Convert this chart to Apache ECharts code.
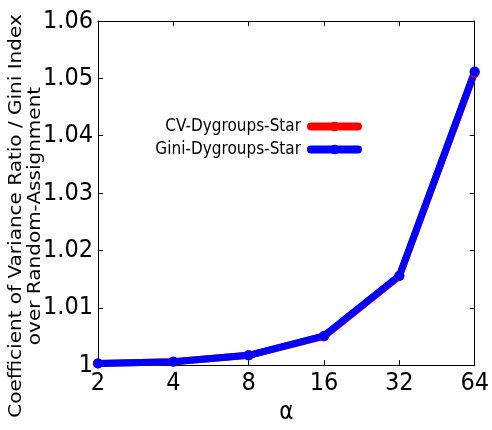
<!DOCTYPE html>
<html>
<head>
<meta charset="utf-8">
<script src="https://cdn.jsdelivr.net/npm/echarts@6/dist/echarts.min.js"></script>
<style>
  html, body { margin: 0; padding: 0; background: #fff; }
  #chart { width: 492px; height: 430px; }
</style>
</head>
<body>
<div id="chart"></div>
<script>
// group-size parameter alpha (log2-spaced, drawn as evenly spaced categories)
const alphaValues = ['2', '4', '8', '16', '32', '64'];
// ratio over Random-Assignment for each metric
const cvDygroupsStar = [1.0003, 1.0006, 1.0017, 1.0050, 1.0155, 1.0510];
const giniDygroupsStar = [1.0003, 1.0006, 1.0017, 1.0051, 1.0156, 1.0512];

const seriesNames = ['CV-Dygroups-Star', 'Gini-Dygroups-Star'];
const seriesColors = ['#ff0000', '#0000ff'];

const tickFont = 'DejaVu Sans Condensed, DejaVu Sans, sans-serif';

const chart = echarts.init(document.getElementById('chart'), null, { renderer: 'canvas' });

function lineSeries(name, values, color) {
  return {
    name: name,
    type: 'line',
    data: values,
    xAxisIndex: 0,
    yAxisIndex: 0,
    symbol: 'circle',
    symbolSize: 10,
    itemStyle: { color: color },
    lineStyle: { color: color, width: 7, cap: 'round', join: 'round' },
    emphasis: { disabled: true },
    animation: false
  };
}

chart.setOption({
  backgroundColor: '#ffffff',
  animation: false,
  grid: { left: 98, right: 15, top: 21, bottom: 59 },
  legend: {
    orient: 'vertical',
    align: 'right',
    right: 130,
    top: 118,
    padding: 0,
    itemGap: 6,
    itemWidth: 47,
    itemHeight: 12,
    data: seriesNames,
    textStyle: { fontFamily: tickFont, fontSize: 17, color: '#000', padding: [0, 5, 0, 0] },
    lineStyle: { width: 8, cap: 'round' }
  },
  xAxis: [
    {
      type: 'category',
      data: alphaValues,
      boundaryGap: false,
      position: 'bottom',
      name: 'α',
      nameLocation: 'middle',
      nameGap: 34,
      nameTextStyle: { fontFamily: tickFont, fontSize: 24, color: '#000' },
      axisLine: { lineStyle: { color: '#000', width: 1 } },
      axisTick: { inside: true, length: 5, alignWithLabel: true, lineStyle: { color: '#000' } },
      axisLabel: { fontFamily: tickFont, fontSize: 25, color: '#000', margin: 6 },
      splitLine: { show: false }
    },
    {
      type: 'category',
      data: alphaValues,
      boundaryGap: false,
      position: 'top',
      axisLine: { lineStyle: { color: '#000', width: 1 } },
      axisTick: { inside: true, length: 5, lineStyle: { color: '#000' } },
      axisLabel: { show: false },
      splitLine: { show: false }
    }
  ],
  yAxis: [
    {
      type: 'value',
      min: 1,
      max: 1.06,
      interval: 0.01,
      position: 'left',
      axisLine: { show: true, lineStyle: { color: '#000', width: 1 } },
      axisTick: { show: true, inside: true, length: 5, lineStyle: { color: '#000' } },
      axisLabel: {
        fontFamily: tickFont, fontSize: 25, color: '#000', margin: 5,
        formatter: v => String(parseFloat(v.toFixed(2)))
      },
      splitLine: { show: false }
    },
    {
      type: 'value',
      min: 1,
      max: 1.06,
      interval: 0.01,
      position: 'right',
      axisLine: { show: true, lineStyle: { color: '#000', width: 1 } },
      axisTick: { show: true, inside: true, length: 5, lineStyle: { color: '#000' } },
      axisLabel: { show: false },
      splitLine: { show: false }
    }
  ],
  graphic: [
    {
      type: 'text',
      x: 26,
      y: 216,
      rotation: Math.PI / 2,
      scaleY: 0.85,
      style: {
        text: 'Coefficient of Variance Ratio / Gini Index\nover Random-Assignment',
        fontFamily: 'DejaVu Sans, sans-serif',
        fontSize: 20,
        lineHeight: 22,
        fill: '#000',
        align: 'center',
        verticalAlign: 'middle'
      }
    }
  ],
  series: [
    lineSeries(seriesNames[0], cvDygroupsStar, seriesColors[0]),
    lineSeries(seriesNames[1], giniDygroupsStar, seriesColors[1])
  ]
});
</script>
</body>
</html>
